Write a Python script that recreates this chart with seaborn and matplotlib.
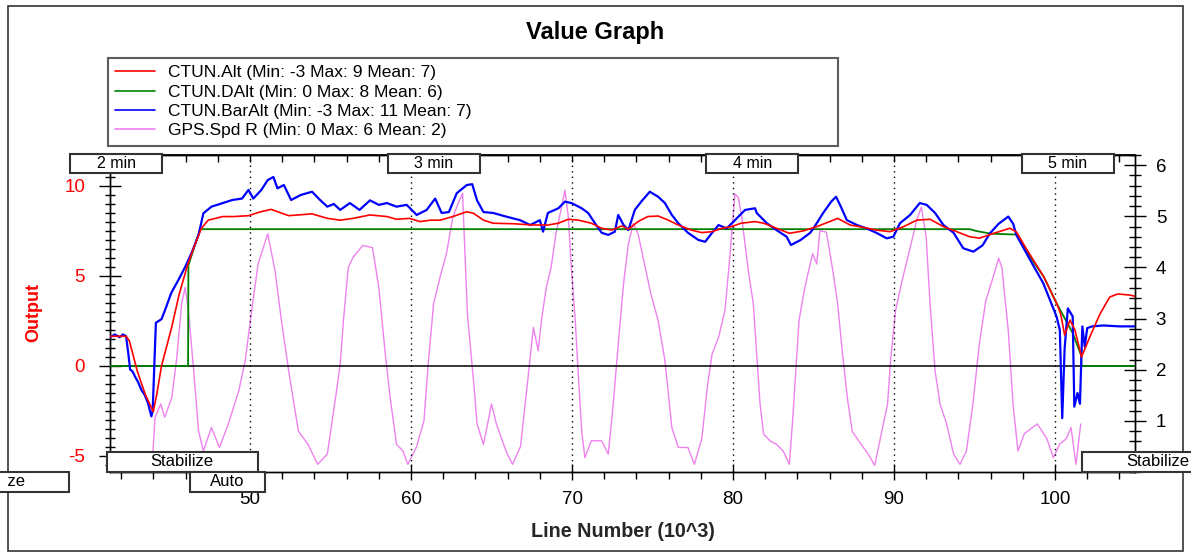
import matplotlib
matplotlib.use("Agg")
import matplotlib.pyplot as plt
import seaborn as sns
import pandas as pd
from matplotlib.patches import Rectangle
from matplotlib.lines import Line2D
from matplotlib.ticker import MultipleLocator, FixedLocator
from matplotlib.transforms import Bbox, TransformedBbox

# ---------------- data (line number in thousands) ----------------
alt_x = [41.3, 42.3, 42.5, 43.0, 43.5, 43.99, 44.2, 44.5, 45.14, 45.6,
         46.15, 46.6, 46.98, 47.4, 48.3, 49.0, 49.9, 50.6, 51.3, 52.4,
         53.85, 54.8, 55.6, 56.4, 57.45, 58.5, 59.1, 59.9, 60.56, 61.2,
         61.8, 62.6, 63.46, 63.88, 64.5, 65.1, 66.4, 67.6, 68.5, 69.15,
         69.77, 70.4, 71.2, 71.84, 72.46, 73.08, 73.5, 74.1, 74.7, 75.35,
         75.98, 76.6, 77.4, 78.06, 78.7, 79.3, 79.9, 80.5, 81.37, 81.9,
         82.7, 83.5, 84.35, 85.2, 86.0, 86.5, 87.27, 88.1, 88.9, 89.75,
         90.6, 91.41, 92.24, 93.07, 93.9, 94.7, 95.3, 96.2, 97.2, 97.6,
         98.27, 99.3, 100.1, 100.35, 100.6, 100.93, 101.24, 101.65, 102.17, 102.8,
         103.4, 103.9, 104.66, 104.97]
alt_y = [1.65, 1.65, 1.4, -0.3, -1.6, -2.54, -1.6, 0.0, 2.18, 4.0,
         5.7, 6.8, 7.65, 8.1, 8.3, 8.3, 8.35, 8.55, 8.7, 8.35,
         8.45, 8.2, 8.1, 8.2, 8.39, 8.3, 8.15, 8.2, 8.02, 8.1,
         8.1, 8.3, 8.57, 8.48, 8.1, 7.93, 7.9, 7.83, 7.83, 7.93,
         8.15, 8.1, 7.93, 7.65, 7.55, 7.78, 7.6, 8.02, 8.3, 8.33,
         8.1, 7.83, 7.55, 7.41, 7.46, 7.65, 7.74, 7.93, 8.02, 7.93,
         7.65, 7.37, 7.5, 7.74, 8.02, 8.2, 7.83, 7.7, 7.55, 7.46,
         7.74, 8.1, 8.15, 7.74, 7.46, 7.18, 7.1, 7.37, 7.65, 7.45,
         6.44, 4.96, 3.48, 2.9, 1.72, 2.55, 2.0, 0.5, 1.63, 2.9,
         3.83, 4.0, 3.94, 3.87]

dalt_x = [41.3, 46.15, 46.17, 46.9, 94.7, 95.1, 96.0, 97.6, 98.27, 99.3,
          100.1, 101.1, 101.62, 101.65, 104.97]
dalt_y = [0.0, 0.0, 5.6, 7.6, 7.6, 7.5, 7.35, 7.3, 6.3, 4.96,
          3.48, 1.83, 0.6, 0.0, 0.0]

baralt_x = [41.3, 41.6, 41.9, 42.1, 42.3, 42.45, 42.55, 42.7, 42.86, 43.05,
            43.25, 43.45, 43.66, 43.87, 43.95, 44.07, 44.15, 44.5, 44.8, 45.1,
            45.55, 45.97, 46.4, 46.8, 47.1, 47.6, 48.3, 48.9, 49.5, 49.9,
            50.2, 50.7, 51.1, 51.45, 51.7, 52.1, 52.55, 53.15, 53.85, 54.35,
            54.8, 55.2, 55.6, 56.2, 56.8, 57.45, 58.0, 58.5, 59.1, 59.73,
            60.35, 60.97, 61.5, 61.9, 62.35, 62.84, 63.46, 63.8, 64.1, 64.5,
            65.1, 65.9, 66.77, 67.4, 68.0, 68.2, 68.5, 69.15, 69.56, 69.97,
            70.6, 71.0, 71.5, 71.84, 72.25, 72.66, 72.87, 73.2, 73.5, 73.9,
            74.3, 74.83, 75.35, 75.77, 76.2, 76.6, 77.2, 77.85, 78.27, 78.7,
            79.1, 79.6, 80.12, 80.75, 81.37, 81.47, 82.1, 82.7, 83.33, 83.6,
            84.2, 84.8, 85.2, 85.6, 86.1, 86.4, 86.7, 87.07, 87.7, 88.3,
            88.9, 89.55, 89.96, 90.37, 91.0, 91.6, 92.03, 92.55, 93.07, 93.7,
            94.3, 94.93, 95.5, 95.96, 96.5, 97.1, 97.4, 97.6, 98.45, 99.27,
            100.1, 100.3, 100.45, 100.6, 100.8, 101.1, 101.2, 101.4, 101.55, 101.7,
            101.85, 102.0, 102.3, 103.0, 104.0, 104.97]
baralt_y = [1.6, 1.75, 1.6, 1.75, 1.65, 0.6, -0.2, -0.3, -0.6, -0.9,
            -1.33, -1.6, -2.06, -2.8, -2.5, 0.5, 2.4, 2.6, 3.3, 4.05,
            4.78, 5.5, 6.35, 7.28, 8.48, 8.85, 9.05, 9.22, 9.3, 9.78,
            9.3, 9.78, 10.33, 10.5, 9.87, 10.05, 9.22, 9.5, 9.68, 9.22,
            8.85, 9.0, 8.67, 9.05, 8.67, 9.2, 8.95, 9.05, 8.85, 8.95,
            8.39, 8.67, 9.3, 8.5, 8.55, 9.6, 10.05, 10.1, 9.2, 8.55,
            8.5, 8.3, 8.1, 7.83, 8.1, 7.46, 8.5, 8.76, 9.13, 9.05,
            8.76, 8.5, 7.83, 7.4, 7.28, 7.46, 8.39, 7.83, 7.55, 8.67,
            9.13, 9.68, 9.4, 9.05, 8.39, 7.93, 7.4, 7.0, 6.9, 7.4,
            7.83, 7.64, 8.1, 8.67, 8.76, 8.5, 7.93, 7.55, 7.18, 6.72,
            7.0, 7.4, 7.93, 8.5, 9.13, 9.4, 8.85, 8.1, 7.83, 7.64,
            7.4, 7.09, 7.18, 7.93, 8.39, 9.05, 8.95, 8.5, 7.83, 7.4,
            6.54, 6.35, 6.7, 7.37, 7.9, 8.3, 7.9, 7.28, 5.9, 4.6,
            2.74, 2.0, -2.9, 1.0, 3.2, 2.75, -2.26, -1.5, -2.1, 2.2,
            1.07, 2.1, 2.2, 2.25, 2.2, 2.2]

gpsspd_x = [41.3, 43.8, 43.97, 44.1, 44.45, 44.7, 45.14, 45.45, 45.75, 45.97,
            46.17, 46.5, 46.8, 47.1, 47.6, 48.1, 48.65, 49.3, 49.7, 50.1,
            50.5, 51.1, 51.55, 51.95, 52.4, 53.0, 53.6, 54.2, 54.8, 55.1,
            55.4, 55.6, 55.8, 56.1, 56.4, 57.0, 57.6, 58.0, 58.4, 58.7,
            59.1, 59.5, 59.8, 60.35, 60.8, 61.1, 61.4, 61.8, 62.2, 62.6,
            63.0, 63.2, 63.5, 63.9, 64.1, 64.5, 65.0, 65.3, 65.9, 66.3,
            66.8, 67.2, 67.6, 67.9, 68.1, 68.4, 68.7, 69.0, 69.35, 69.56,
            69.77, 69.97, 70.2, 70.4, 70.6, 70.8, 71.2, 71.84, 72.25, 72.56,
            72.87, 73.2, 73.5, 73.8, 74.1, 74.5, 74.9, 75.35, 75.77, 76.2,
            76.6, 77.2, 77.6, 78.06, 78.4, 78.7, 79.1, 79.5, 79.8, 80.12,
            80.33, 80.54, 80.95, 81.26, 81.47, 81.68, 81.9, 82.3, 82.7, 83.12,
            83.5, 83.7, 83.9, 84.1, 84.35, 84.6, 84.95, 85.2, 85.4, 85.8,
            86.2, 86.5, 86.8, 87.1, 87.4, 87.8, 88.4, 88.8, 89.34, 89.6,
            89.8, 90.1, 90.5, 90.96, 91.41, 91.7, 92.0, 92.24, 92.55, 92.86,
            93.27, 93.7, 94.1, 94.5, 94.9, 95.3, 95.7, 96.1, 96.5, 96.7,
            97.1, 97.4, 97.7, 98.1, 98.9, 99.5, 99.9, 100.3, 100.7, 101.0,
            101.3, 101.6]
gpsspd_y = [0.0, 0.0, 0.41, 1.07, 1.33, 1.07, 1.46, 2.24, 3.29, 3.61,
            3.16, 1.98, 0.8, 0.41, 0.87, 0.48, 0.94, 1.59, 2.18, 3.16,
            4.07, 4.66, 3.94, 2.96, 1.98, 0.8, 0.54, 0.15, 0.35, 1.0,
            1.65, 2.11, 2.96, 4.0, 4.2, 4.43, 4.39, 3.61, 2.31, 1.46,
            0.54, 0.41, 0.15, 0.5, 1.0, 2.24, 3.29, 3.81, 4.27, 4.99,
            5.31, 5.45, 3.09, 1.72, 0.94, 0.54, 1.33, 0.94, 0.41, 0.15,
            0.5, 1.65, 2.83, 2.37, 2.96, 3.61, 4.0, 4.66, 5.18, 5.51,
            4.99, 3.94, 2.96, 1.85, 0.8, 0.28, 0.61, 0.61, 0.35, 1.33,
            2.5, 3.68, 4.46, 4.86, 4.66, 4.07, 3.48, 2.96, 2.18, 0.87,
            0.48, 0.48, 0.15, 0.65, 1.65, 2.31, 2.63, 3.16, 4.2, 5.44,
            5.37, 4.99, 3.94, 3.29, 2.31, 1.33, 0.74, 0.61, 0.54, 0.41,
            0.15, 1.0, 1.98, 2.96, 3.42, 3.81, 4.27, 4.07, 4.72, 4.69,
            3.94, 3.29, 2.31, 1.46, 0.8, 0.61, 0.35, 0.13, 0.94, 1.33,
            2.24, 3.16, 3.74, 4.33, 4.92, 5.18, 4.59, 3.29, 1.98, 1.33,
            0.94, 0.35, 0.15, 0.41, 1.33, 2.5, 3.35, 3.75, 4.18, 4.0,
            2.76, 1.3, 0.41, 0.75, 0.94, 0.65, 0.28, 0.55, 0.65, 0.87,
            0.15, 0.94]

legend_labels = ["CTUN.Alt (Min: -3 Max: 9 Mean: 7)",
                 "CTUN.DAlt (Min: 0 Max: 8 Mean: 6)",
                 "CTUN.BarAlt (Min: -3 Max: 11 Mean: 7)",
                 "GPS.Spd R (Min: 0 Max: 6 Mean: 2)"]

x_major_ticks = [50, 60, 70, 80, 90, 100]
left_ticks = [-5, 0, 5, 10]
right_ticks = [1, 2, 3, 4, 5, 6]
x_range = (41.3, 104.97)
left_range = (-5.89, 11.72)
right_range = (0.0, 6.2)

minute_labels = ["2 min", "3 min", "4 min", "5 min"]
minute_at = [41.7, 61.4, 81.2, 100.8]
mode_labels = ["Stabilize", "Stabilize", "Auto", "Stabilize"]
mode_start = [29.4, 41.1, 46.27, 101.68]

# ---------------- styles ----------------
c_alt, c_dalt, c_bar, c_spd = "#FF0000", "#008000", "#0000FF", "#EE82EE"

W, H = 1191, 555
sns.set_theme(style="white")
plt.rcParams['font.family'] = ['Liberation Sans', 'DejaVu Sans']
plt.rcParams['axes.unicode_minus'] = False

fig = plt.figure(figsize=(W / 100, H / 100), dpi=100)
fig.patch.set_facecolor('white')


def fxp(px):
    return px / W


def fyp(py):
    return 1 - py / H


L, R, T, B = 110, 1135, 155, 472
ax = fig.add_axes([fxp(L), fyp(B), (R - L) / W, (B - T) / H])
ax2 = ax.twinx()
ax.set_zorder(ax2.get_zorder() + 1)
ax.patch.set_visible(False)

df_alt = pd.DataFrame({"x": alt_x, "y": alt_y})
df_dalt = pd.DataFrame({"x": dalt_x, "y": dalt_y})
df_bar = pd.DataFrame({"x": baralt_x, "y": baralt_y})
df_spd = pd.DataFrame({"x": gpsspd_x, "y": gpsspd_y})

sns.lineplot(data=df_spd, x="x", y="y", ax=ax2, color=c_spd, lw=1.0,
             estimator=None, sort=False)
sns.lineplot(data=df_dalt, x="x", y="y", ax=ax, color=c_dalt, lw=1.3,
             estimator=None, sort=False, zorder=3)
sns.lineplot(data=df_bar, x="x", y="y", ax=ax, color=c_bar, lw=1.6,
             estimator=None, sort=False, zorder=4)
sns.lineplot(data=df_alt, x="x", y="y", ax=ax, color=c_alt, lw=1.2,
             estimator=None, sort=False, zorder=5)

ax.set_xlim(*x_range)
ax.set_ylim(*left_range)
ax2.set_ylim(*right_range)

ax.axhline(0, color="black", lw=1.1, zorder=2)
for xv in x_major_ticks:
    ax.axvline(xv, color="black", lw=1.0, ls=(0, (1, 3)), zorder=1)

# spines
for a in (ax, ax2):
    for s in a.spines.values():
        s.set_color("black")
        s.set_linewidth(1.0)

# ticks
ax.xaxis.set_major_locator(FixedLocator(x_major_ticks))
ax.xaxis.set_minor_locator(MultipleLocator(2))
ax.yaxis.set_major_locator(FixedLocator(left_ticks))
ax.yaxis.set_minor_locator(MultipleLocator(0.5))
ax2.yaxis.set_major_locator(FixedLocator(right_ticks))
ax2.yaxis.set_minor_locator(MultipleLocator(0.2))

ax.tick_params(axis="x", which="major", bottom=True, top=False, direction="inout",
               length=12, width=1, color="black", labelsize=13.5, pad=8,
               labelcolor="black")
ax.tick_params(axis="x", which="minor", bottom=True, top=False, direction="out",
               length=5, width=1, color="black")
ax.tick_params(axis="y", which="major", left=True, right=False, direction="inout",
               length=16, width=1, color="black", labelsize=13.5, pad=10,
               labelcolor="#FF0000")
ax.tick_params(axis="y", which="minor", left=True, right=False, direction="inout",
               length=7, width=1, color="black")
ax2.tick_params(axis="y", which="major", right=True, left=False, direction="inout",
                length=16, width=1, color="black", labelsize=13.5, pad=7,
                labelcolor="black")
ax2.tick_params(axis="y", which="minor", right=True, left=False, direction="inout",
                length=8, width=1, color="black")

sec = ax.secondary_xaxis("top")
sec.xaxis.set_major_locator(MultipleLocator(2))
sec.tick_params(axis="x", which="major", top=True, direction="in", length=5,
                width=1, color="black", labeltop=False)
sec.spines["top"].set_color("black")

ax.set_xlabel("Line Number (10^3)", fontsize=14.2, fontweight="bold")
ax.xaxis.set_label_coords(0.5, (B - 522) / (B - T))
ax.set_ylabel("Output", fontsize=13, fontweight="bold", color="#FF0000")
ax.yaxis.set_label_coords((42 - L) / (R - L), (B - 313) / (B - T))
ax2.set_ylabel("")

# legend
handles = [Line2D([], [], color=c, lw=1.2) for c in (c_alt, c_dalt, c_bar, c_spd)]
leg = fig.legend(handles, legend_labels, loc="upper left",
                 bbox_to_anchor=(fxp(108), fyp(145), (838 - 108) / W, (145 - 58) / H),
                 bbox_transform=fig.transFigure, mode="expand", ncol=1,
                 frameon=True, fancybox=False, fontsize=12.5, handlelength=2.3,
                 handletextpad=0.75, borderpad=0.42, labelspacing=0.24,
                 borderaxespad=0)
leg.get_frame().set_edgecolor("#333333")
leg.get_frame().set_linewidth(1.5)
for t in leg.get_texts():
    t.set_color("black")

# title
fig.text(fxp(595), fyp(33), "Value Graph", ha="center", va="center",
         fontsize=17, fontweight="bold", color="black")

# visible region of the graph control (content left of it is cut off)
view_clip = TransformedBbox(Bbox.from_extents(fxp(8), 0, 1, 1), fig.transFigure)


def box(px_left, py_top, w, h, text, fs):
    fig.add_artist(Rectangle((fxp(px_left), fyp(py_top + h)), w / W, h / H,
                             transform=fig.transFigure, facecolor="white",
                             edgecolor="#333333", lw=1.5, zorder=6))
    t = fig.text(fxp(px_left + w / 2), fyp(py_top + h / 2), text, ha="center",
                 va="center", fontsize=fs, color="black", zorder=7)
    t.set_clip_box(view_clip)
    t.set_clip_on(True)


def data_px(xv):
    return ax.transData.transform((xv, 0))[0] * W / fig.bbox.width


# minute markers on top
for lab, xm in zip(minute_labels, minute_at):
    cx = data_px(xm)
    box(cx - 46, 154, 92, 19, lab, 11.5)

# flight-mode markers at bottom
mode_w = {"Stabilize": 151, "Auto": 75}
for i, (lab, xs) in enumerate(zip(mode_labels, mode_start)):
    px0 = data_px(xs)
    top = 472 if i % 2 == 0 else 452
    box(px0, top, mode_w[lab], 20, lab, 12)

# outer frame
fig.add_artist(Rectangle((fxp(8), fyp(551)), (1183 - 8) / W, (551 - 6) / H,
                         transform=fig.transFigure, facecolor="none",
                         edgecolor="#333333", lw=1.2, zorder=5))

fig.savefig("out.png", dpi=100, facecolor="white")
